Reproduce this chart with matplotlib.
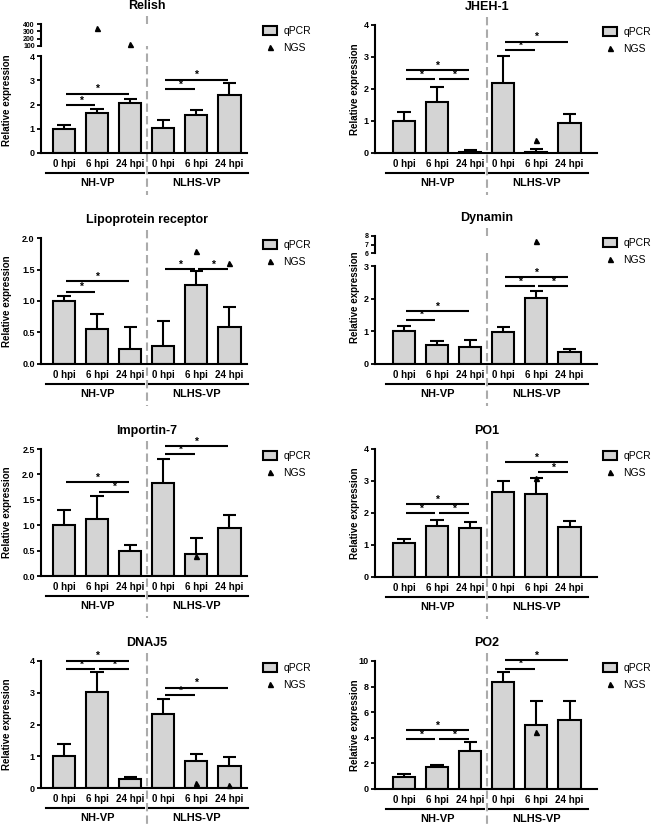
import numpy as np
import matplotlib.pyplot as plt
import matplotlib.transforms as mtransforms
from matplotlib.patches import Patch
from matplotlib.lines import Line2D

plt.rcParams['font.family'] = ['Liberation Sans', 'DejaVu Sans']
plt.rcParams['font.weight'] = 'bold'
plt.rcParams['axes.linewidth'] = 1.5

W, H = 654, 825
nan = np.nan

times = ['0 hpi', '6 hpi', '24 hpi', '0 hpi', '6 hpi', '24 hpi']
groups = ['NH-VP', 'NLHS-VP']

# qPCR means, upper error, NGS values, significance bars (i, j, height)
relish_mean = [1.0, 1.65, 2.08, 1.05, 1.57, 2.4]
relish_err = [0.15, 0.17, 0.15, 0.3, 0.2, 0.5]
relish_ngs = [nan, 349, 130, nan, nan, nan]
relish_sig = [(0, 1, 1.99), (0, 2, 2.45), (3, 4, 2.63), (3, 5, 3.03)]

jheh_mean = [1.0, 1.6, 0.04, 2.2, 0.04, 0.95]
jheh_err = [0.27, 0.47, 0.04, 0.83, 0.07, 0.28]
jheh_ngs = [nan, nan, nan, nan, 0.42, nan]
jheh_sig = [(0, 1, 2.32), (1, 2, 2.32), (0, 2, 2.6), (3, 4, 3.22), (3, 5, 3.48)]

lipo_mean = [1.0, 0.56, 0.24, 0.29, 1.25, 0.59]
lipo_err = [0.08, 0.24, 0.35, 0.4, 0.22, 0.32]
lipo_ngs = [nan, nan, nan, nan, 1.8, 1.61]
lipo_sig = [(0, 1, 1.15), (0, 2, 1.32), (3, 4, 1.51), (4, 5, 1.51)]

dyn_mean = [1.0, 0.58, 0.53, 0.97, 2.03, 0.36]
dyn_err = [0.15, 0.13, 0.19, 0.15, 0.22, 0.11]
dyn_ngs = [nan, nan, nan, nan, 7.4, nan]
dyn_sig = [(0, 1, 1.36), (0, 2, 1.62), (3, 4, 2.39), (4, 5, 2.39), (3, 5, 2.67)]

imp_mean = [1.0, 1.12, 0.49, 1.83, 0.43, 0.95]
imp_err = [0.29, 0.45, 0.12, 0.48, 0.31, 0.26]
imp_ngs = [nan, nan, nan, nan, 0.4, nan]
imp_sig = [(0, 2, 1.85), (1, 2, 1.66), (3, 4, 2.4), (3, 5, 2.55)]

po1_mean = [1.05, 1.6, 1.52, 2.66, 2.6, 1.55]
po1_err = [0.14, 0.19, 0.2, 0.33, 0.48, 0.19]
po1_ngs = [nan, nan, nan, nan, 3.09, nan]
po1_sig = [(0, 1, 1.99), (1, 2, 1.99), (0, 2, 2.28), (4, 5, 3.28), (3, 5, 3.58)]

dnaj_mean = [1.01, 3.02, 0.29, 2.34, 0.84, 0.7]
dnaj_err = [0.39, 0.64, 0.07, 0.45, 0.24, 0.29]
dnaj_ngs = [nan, nan, nan, nan, 0.17, 0.1]
dnaj_sig = [(0, 1, 3.74), (1, 2, 3.74), (0, 2, 4.01), (3, 4, 2.93), (3, 5, 3.16)]

po2_mean = [0.97, 1.72, 2.95, 8.33, 5.0, 5.4]
po2_err = [0.18, 0.15, 0.7, 0.78, 1.86, 1.5]
po2_ngs = [nan, nan, nan, nan, 4.44, nan]
po2_sig = [(0, 1, 3.92), (1, 2, 3.92), (0, 2, 4.62), (3, 4, 9.4), (3, 5, 10.05)]

fig = plt.figure(figsize=(W / 100, H / 100), dpi=100)

# column layout in pixels: axis left, axis right, centre of first bar, ylabel x, legend x
cols = [dict(x0=41, x1=247, c0=64, lab=7, leg=263),
        dict(x0=375, x1=597, c0=404, lab=355, leg=603)]
step = 33.1
bar_color = '#d4d4d4'


def px_axes(x0, x1, top, bottom):
    return fig.add_axes([x0 / W, 1 - bottom / H, (x1 - x0) / W, (bottom - top) / H])


def draw_panel(title, mean, err, ngs, sig, col, top, bottom, ylim, yticks, fmt,
               upper=None, lab_y=None):
    c = cols[col]
    xlim = ((c['x0'] - c['c0']) / step, (c['x1'] - c['c0']) / step)
    x = np.arange(6)
    mean = np.array(mean)
    err = np.array(err)
    ngs = np.array(ngs, dtype=float)

    ax = px_axes(c['x0'], c['x1'], top, bottom)
    ax.set_xlim(*xlim)
    ax.set_ylim(*ylim)
    ax.spines['top'].set_visible(False)
    ax.spines['right'].set_visible(False)
    ax.bar(x, mean, width=0.67, color=bar_color, edgecolor='black', linewidth=1.5, zorder=2)
    ax.vlines(x, mean, mean + err, color='black', lw=1.5, zorder=1)
    ax.hlines(mean + err, x - 0.2, x + 0.2, color='black', lw=1.5, zorder=1)

    low = ngs.copy()
    if upper is not None:
        low[ngs > ylim[1]] = nan
    ax.plot(x, low, '^', color='black', ms=3.6, clip_on=False, zorder=5)

    for i, j, h in sig:
        ax.plot([i + 0.05, j - 0.05], [h, h], color='black', lw=1.5, clip_on=False,
                solid_capstyle='butt')
        ax.annotate('*', xy=((i + j) / 2, h), xytext=(0, 1.0), textcoords='offset points',
                    ha='center', va='baseline', fontsize=7.5, annotation_clip=False)

    ax.set_yticks(yticks)
    ax.set_yticklabels([fmt.format(v) for v in yticks])
    ax.tick_params(axis='y', length=3, width=1.3, labelsize=6.5, pad=1.5)
    ax.set_xticks(x)
    ax.set_xticklabels(times)
    ax.tick_params(axis='x', length=0, labelsize=7, pad=4)

    tr = mtransforms.blended_transform_factory(ax.transData, fig.transFigure)
    fy = lambda p: 1 - p / H
    ax.plot([-0.55, 2.42], [fy(bottom + 20)] * 2, color='black', lw=1.5, transform=tr, clip_on=False)
    ax.plot([2.56, 5.55], [fy(bottom + 20)] * 2, color='black', lw=1.5, transform=tr, clip_on=False)
    ax.text(1, fy(bottom + 30), groups[0], ha='center', va='center', fontsize=8, transform=tr)
    ax.text(4, fy(bottom + 30), groups[1], ha='center', va='center', fontsize=8, transform=tr)

    top_all = top if upper is None else upper[0]
    ax.plot([2.5, 2.5], [fy(top_all - 8), fy(bottom + 42)], color='#ababab', lw=1.5,
            ls=(0, (4, 2)), transform=tr, clip_on=False, zorder=0)
    ax.text(2.5, fy(top_all - 18), title, ha='center', va='center', fontsize=9, transform=tr)

    if upper is not None:
        ut, ub, ulim, uticks = upper
        ax2 = px_axes(c['x0'], c['x1'], ut, ub)
        ax2.set_xlim(*xlim)
        ax2.set_ylim(*ulim)
        for s in ['top', 'right', 'bottom']:
            ax2.spines[s].set_visible(False)
        ax2.set_xticks([])
        ax2.set_yticks(uticks)
        ax2.tick_params(axis='y', length=3, width=1.3, labelsize=5, pad=1.5)
        hi = ngs.copy()
        hi[~(ngs > ylim[1])] = nan
        ax2.plot(x, hi, '^', color='black', ms=3.6, clip_on=False, zorder=5)

    if lab_y is None:
        lab_y = (top + bottom) / 2
    fig.text(c['lab'] / W, fy(lab_y), 'Relative expression', rotation=90,
             ha='center', va='center', fontsize=7)

    handles = [Patch(facecolor=bar_color, edgecolor='black', linewidth=1.5),
               Line2D([], [], marker='^', color='black', ls='none', ms=3.6)]
    ax.legend(handles, ['qPCR', 'NGS'], loc='upper left',
              bbox_to_anchor=(c['leg'] / W, fy(top_all + 2)), bbox_transform=fig.transFigure,
              frameon=False, prop={'size': 7.5, 'weight': 'normal'}, handlelength=1.35,
              handleheight=0.85, labelspacing=0.65, borderpad=0, borderaxespad=0,
              handletextpad=0.6)
    return ax


draw_panel('Relish', relish_mean, relish_err, relish_ngs, relish_sig, 0, 56, 153,
           (0, 4), [0, 1, 2, 3, 4], '{:g}', upper=(24, 46, (100, 400), [100, 200, 300, 400]),
           lab_y=100)
draw_panel('JHEH-1', jheh_mean, jheh_err, jheh_ngs, jheh_sig, 1, 25, 153,
           (0, 4), [0, 1, 2, 3, 4], '{:g}')
draw_panel('Lipoprotein receptor', lipo_mean, lipo_err, lipo_ngs, lipo_sig, 0, 238, 364,
           (0, 2), [0, 0.5, 1.0, 1.5, 2.0], '{:.1f}')
draw_panel('Dynamin', dyn_mean, dyn_err, dyn_ngs, dyn_sig, 1, 266, 364,
           (0, 3), [0, 1, 2, 3], '{:g}', upper=(236, 253, (6, 8), [6, 7, 8]), lab_y=297)
draw_panel('Importin-7', imp_mean, imp_err, imp_ngs, imp_sig, 0, 449, 576,
           (0, 2.5), [0, 0.5, 1.0, 1.5, 2.0, 2.5], '{:.1f}')
draw_panel('PO1', po1_mean, po1_err, po1_ngs, po1_sig, 1, 449, 577,
           (0, 4), [0, 1, 2, 3, 4], '{:g}')
draw_panel('DNAJ5', dnaj_mean, dnaj_err, dnaj_ngs, dnaj_sig, 0, 661, 788,
           (0, 4), [0, 1, 2, 3, 4], '{:g}')
draw_panel('PO2', po2_mean, po2_err, po2_ngs, po2_sig, 1, 661, 789,
           (0, 10), [0, 2, 4, 6, 8, 10], '{:g}')

fig.savefig('out.png', dpi=100)
